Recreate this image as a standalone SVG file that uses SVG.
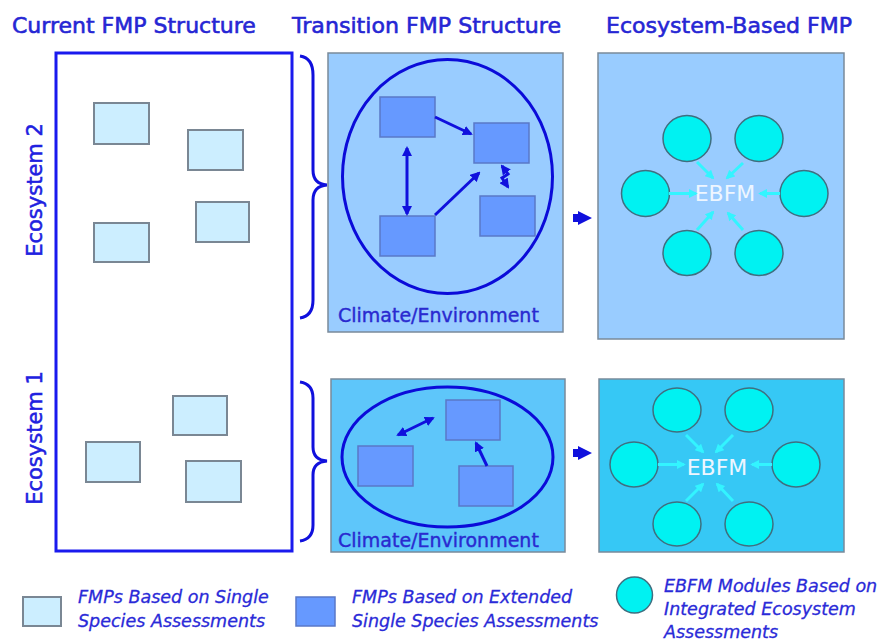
<svg xmlns="http://www.w3.org/2000/svg" width="891" height="644" viewBox="0 0 891 644">
<style>
.title{font-family:"DejaVu Sans","Liberation Sans",sans-serif;font-size:22px;fill:#2626d4;stroke:#2626d4;stroke-width:0.6}
.eco{font-family:"DejaVu Sans","Liberation Sans",sans-serif;font-size:21px;fill:#2020e0;stroke:#2020e0;stroke-width:0.5}
.clim{font-family:"DejaVu Sans","Liberation Sans",sans-serif;font-size:19px;fill:#2a2ad0;stroke:#2a2ad0;stroke-width:0.4}
.ebfm{font-family:"DejaVu Sans","Liberation Sans",sans-serif;font-size:22px;fill:#eef6ff;text-anchor:middle}
.leg{font-family:"DejaVu Sans","Liberation Sans",sans-serif;font-size:17.5px;font-style:italic;fill:#2a2ad8;stroke:#2a2ad8;stroke-width:0.3}
.light{fill:#cceeff;stroke:#7a8794;stroke-width:2}
.dark{fill:#6699ff;stroke:#5a78c8;stroke-width:1.5}
.mod{fill:#00f2f2;stroke:#3f6f80;stroke-width:1.5}
.panel{stroke:#7a8a9a;stroke-width:1.5}
.blue{stroke:#1010dd;stroke-width:3;fill:none}
.cyan{stroke:#33f4ff;stroke-width:3;fill:none}
</style>
<defs>
<marker id="bh" viewBox="0 0 10 10" refX="8" refY="5" markerWidth="10" markerHeight="10" markerUnits="userSpaceOnUse" orient="auto-start-reverse">
<path d="M0,0 L10,5 L0,10 Z" fill="#1010dd"/>
</marker>
<marker id="ch" viewBox="0 0 10 10" refX="8" refY="5" markerWidth="9" markerHeight="9" markerUnits="userSpaceOnUse" orient="auto">
<path d="M0,0 L10,5 L0,10 Z" fill="#33f4ff"/>
</marker>
</defs>
<rect width="891" height="644" fill="#ffffff"/>

<g id="titles">
<text class="title" x="12" y="33">Current FMP Structure</text>
<text class="title" x="292" y="33" textLength="269" lengthAdjust="spacingAndGlyphs">Transition FMP Structure</text>
<text class="title" x="606" y="33" textLength="246" lengthAdjust="spacingAndGlyphs">Ecosystem-Based FMP</text>
</g>

<g id="current">
<rect x="56" y="53" width="236" height="498" fill="#ffffff" stroke="#1a1aee" stroke-width="3"/>
<text class="eco" transform="translate(42,190) rotate(-90)" text-anchor="middle">Ecosystem 2</text>
<text class="eco" transform="translate(42,438) rotate(-90)" text-anchor="middle">Ecosystem 1</text>
<rect class="light" x="94" y="103" width="55" height="41"/>
<rect class="light" x="188" y="130" width="55" height="40"/>
<rect class="light" x="94" y="223" width="55" height="39"/>
<rect class="light" x="196" y="202" width="53" height="40"/>
<rect class="light" x="173" y="396" width="54" height="39"/>
<rect class="light" x="86" y="442" width="54" height="40"/>
<rect class="light" x="186" y="461" width="55" height="41"/>
</g>

<g id="braces">
<path class="blue" d="M300,56 Q313,58 313,75 L313,170 Q313,184 327,185 Q313,186 313,200 L313,300 Q313,316 300,318"/>
<path class="blue" d="M300,382 Q313,384 313,398 L313,447 Q313,460 327,461 Q313,462 313,475 L313,525 Q313,539 300,541"/>
</g>

<g id="transition2">
<rect class="panel" x="328" y="53" width="235" height="279" fill="#99ccff"/>
<ellipse cx="447.5" cy="176.5" rx="105" ry="117" fill="none" stroke="#0b0bd9" stroke-width="3"/>
<rect class="dark" x="380" y="97" width="55" height="40"/>
<rect class="dark" x="474" y="123" width="55" height="40"/>
<rect class="dark" x="380" y="216" width="55" height="40"/>
<rect class="dark" x="480" y="196" width="55" height="40"/>
<text class="clim" x="338" y="322">Climate/Environment</text>
</g>

<g id="transition1">
<rect class="panel" x="331" y="379" width="234" height="173" fill="#5ec6fa"/>
<ellipse cx="447.5" cy="457" rx="105.5" ry="70" fill="none" stroke="#0b0bd9" stroke-width="3"/>
<rect class="dark" x="446" y="400" width="54" height="40"/>
<rect class="dark" x="358" y="446" width="55" height="40"/>
<rect class="dark" x="459" y="466" width="54" height="40"/>
<text class="clim" x="338" y="547">Climate/Environment</text>
</g>

<g id="ebfm2">
<rect class="panel" x="598" y="53" width="246" height="286" fill="#99ccff"/>
<ellipse class="mod" cx="687" cy="138.5" rx="24" ry="23"/>
<ellipse class="mod" cx="759" cy="138.5" rx="24" ry="23"/>
<ellipse class="mod" cx="645.5" cy="193.5" rx="24" ry="23"/>
<ellipse class="mod" cx="804" cy="193.5" rx="24" ry="23"/>
<ellipse class="mod" cx="687" cy="253" rx="24" ry="22.5"/>
<ellipse class="mod" cx="759" cy="253" rx="24" ry="22.5"/>
<text class="ebfm" x="725" y="201">EBFM</text>
</g>

<g id="ebfm1">
<rect class="panel" x="599" y="379" width="245" height="173" fill="#36c8f5"/>
<ellipse class="mod" cx="677" cy="410" rx="24" ry="22"/>
<ellipse class="mod" cx="749" cy="410" rx="24" ry="22"/>
<ellipse class="mod" cx="634" cy="464.5" rx="24" ry="22.5"/>
<ellipse class="mod" cx="796" cy="464.5" rx="24" ry="22.5"/>
<ellipse class="mod" cx="677" cy="524" rx="24" ry="22"/>
<ellipse class="mod" cx="749" cy="524" rx="24" ry="22"/>
<text class="ebfm" x="717" y="475">EBFM</text>
</g>

<g id="connectors">
<line class="blue" x1="435" y1="117" x2="471" y2="134" stroke-width="2.5" marker-end="url(#bh)"/>
<line class="blue" x1="407" y1="148" x2="407" y2="214" stroke-width="2.5" marker-start="url(#bh)" marker-end="url(#bh)"/>
<line class="blue" x1="435" y1="215" x2="479" y2="173" stroke-width="2.5" marker-end="url(#bh)"/>
<polyline class="blue" points="502,166 508,174 502,178 508,187" stroke-width="2" marker-start="url(#bh)" marker-end="url(#bh)"/>
<line class="blue" x1="398" y1="435" x2="433" y2="418" stroke-width="2.5" marker-start="url(#bh)" marker-end="url(#bh)"/>
<line class="blue" x1="487" y1="466" x2="476" y2="443" stroke-width="2.5" marker-end="url(#bh)"/>
<path d="M573,214 L578,214 L578,211 L592,218 L578,225 L578,222 L573,222 Z" fill="#1010dd"/>
<path d="M573,449 L578,449 L578,446 L592,453 L578,460 L578,457 L573,457 Z" fill="#1010dd"/>
<line class="cyan" x1="669" y1="193.5" x2="696" y2="193.5" marker-end="url(#ch)"/>
<line class="cyan" x1="780" y1="193.5" x2="760" y2="193.5" marker-end="url(#ch)"/>
<line class="cyan" x1="697" y1="162" x2="713" y2="178" marker-end="url(#ch)"/>
<line class="cyan" x1="743" y1="163" x2="727" y2="178" marker-end="url(#ch)"/>
<line class="cyan" x1="697" y1="230" x2="713" y2="212" marker-end="url(#ch)"/>
<line class="cyan" x1="743" y1="230" x2="728" y2="213" marker-end="url(#ch)"/>
<line class="cyan" x1="658" y1="464.5" x2="684" y2="464.5" marker-end="url(#ch)"/>
<line class="cyan" x1="772" y1="464.5" x2="752" y2="464.5" marker-end="url(#ch)"/>
<line class="cyan" x1="686" y1="435" x2="703" y2="452" marker-end="url(#ch)"/>
<line class="cyan" x1="733" y1="435" x2="716" y2="452" marker-end="url(#ch)"/>
<line class="cyan" x1="686" y1="501" x2="703" y2="484" marker-end="url(#ch)"/>
<line class="cyan" x1="733" y1="501" x2="717" y2="484" marker-end="url(#ch)"/>
</g>

<g id="legend">
<rect class="light" x="23" y="597" width="38" height="29" fill="#ccffff"/>
<text class="leg" x="78" y="603">FMPs Based on Single</text>
<text class="leg" x="78" y="627">Species Assessments</text>
<rect class="dark" x="296" y="597" width="39" height="29" stroke="#4a5f99" stroke-width="2"/>
<text class="leg" x="352" y="603">FMPs Based on Extended</text>
<text class="leg" x="352" y="627">Single Species Assessments</text>
<circle class="mod" cx="634.5" cy="595" r="18"/>
<text class="leg" x="664" y="592">EBFM Modules Based on</text>
<text class="leg" x="664" y="615">Integrated Ecosystem</text>
<text class="leg" x="664" y="638">Assessments</text>
</g>
</svg>
